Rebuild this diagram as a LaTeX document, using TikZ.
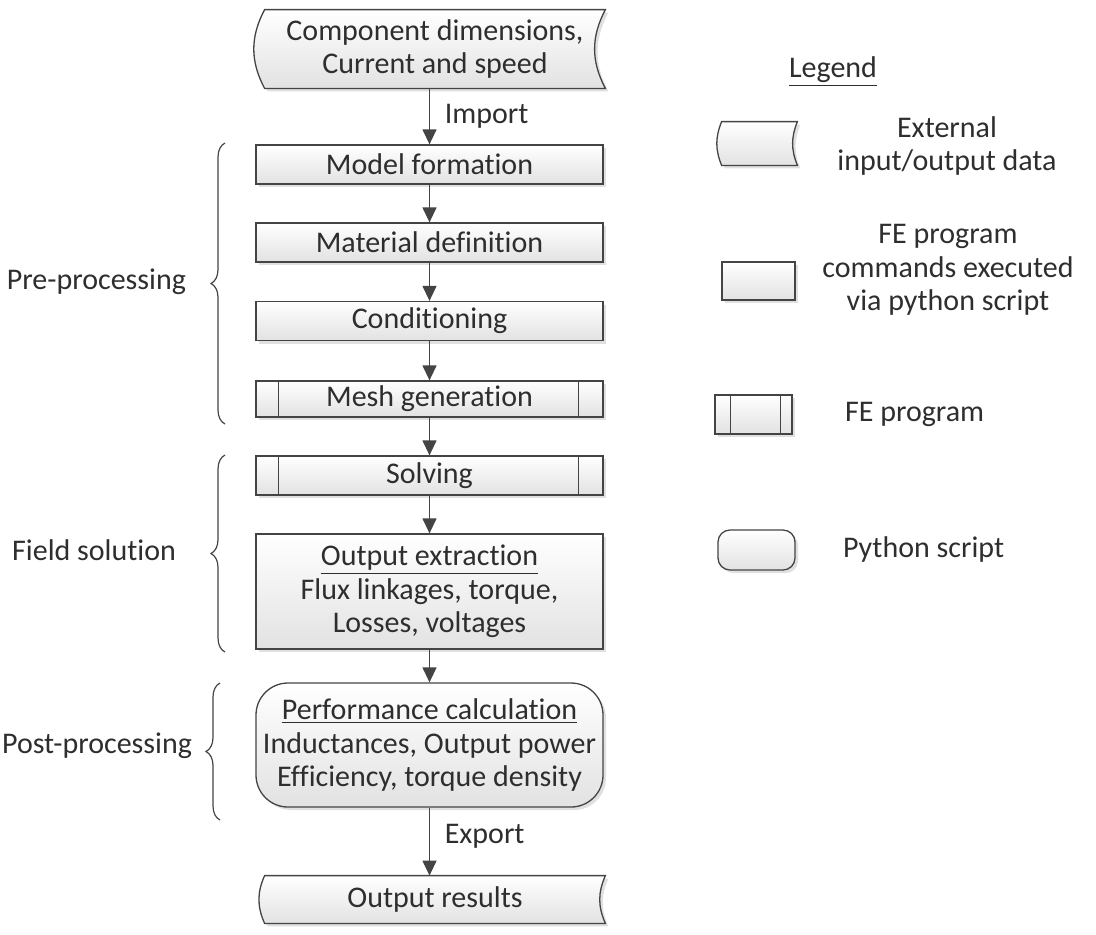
\documentclass[tikz,border=0pt]{standalone}
\usepackage{fontspec}
\setmainfont{Carlito}[Ligatures=NoCommon]
\usetikzlibrary{arrows.meta,decorations.pathreplacing,shadows,backgrounds}
\definecolor{linegray}{HTML}{444444}
\definecolor{textgray}{HTML}{2E2E2E}
\definecolor{fillgray}{HTML}{E2E2E2}

\begin{document}
\begin{tikzpicture}[
  x=0.5pt, y=-0.5pt,
  font=\fontsize{15}{16.8}\selectfont,
  shade/.style={top color=white, bottom color=fillgray,
    drop shadow={shadow xshift=1.5pt, shadow yshift=-1.5pt, fill=black, opacity=0.12}},
  box/.style={rectangle, draw=linegray, line width=0.65pt, shade, text=textgray,
    minimum width=173.5pt, minimum height=19.5pt, inner sep=0pt, align=center},
  rbox/.style={box, rounded corners=16pt},
  iotext/.style={rectangle, text=textgray, inner sep=0pt, align=center,
    minimum width=170pt},
  iobox/.style={draw=linegray, line width=0.65pt, shade},
  side/.style={draw=linegray, line width=0.65pt},
  flow/.style={draw=linegray, line width=0.65pt, -{Triangle[length=7.5pt, width=7pt]}},
  brace/.style={draw=linegray, line width=0.6pt, decorate, decoration={brace, amplitude=7pt}},
  glabel/.style={text=textgray, anchor=east},
  ltext/.style={text=textgray, align=center}
]
  \useasboundingbox (0,0) rectangle (1096,934);

  % --- FLOW ---
  \node[iotext, minimum height=39pt] (input) at (435,49) {Component dimensions,\\Current and speed};
  \node[box] (model)    at (429.5,164.5) {Model formation};
  \node[box] (material) at (429.5,242.5) {Material definition};
  \node[box] (cond)     at (429.5,321) {Conditioning};
  \node[box, minimum height=18pt] (mesh)  at (429.5,399) {Mesh generation};
  \node[box] (solve)    at (429.5,475.5) {Solving};
  \node[box, minimum height=57.5pt] (extract) at (429.5,591.5)
    {\underline{Output extraction}\\Flux linkages, torque,\\Losses, voltages};
  \node[rbox, minimum height=62pt] (perf) at (429.5,745)
    {\underline{Performance calculation}\\Inductances, Output power\\Efficiency, torque density};
  \node[iotext, minimum height=23.5pt] (output) at (435,899.5) {Output results};

  \begin{scope}[on background layer]
    \draw[iobox] (input.north west) -- (input.north east) to[bend right=28] (input.south east)
      -- (input.south west) to[bend left=28] cycle;
    \draw[iobox] (output.north west) -- (output.north east) to[bend right=24] (output.south east)
      -- (output.south west) to[bend left=24] cycle;
  \end{scope}

  \draw[side] ([xshift=11.5pt]mesh.north west) -- ([xshift=11.5pt]mesh.south west);
  \draw[side] ([xshift=-12.5pt]mesh.north east) -- ([xshift=-12.5pt]mesh.south east);
  \draw[side] ([xshift=11.5pt]solve.north west) -- ([xshift=11.5pt]solve.south west);
  \draw[side] ([xshift=-12.5pt]solve.north east) -- ([xshift=-12.5pt]solve.south east);

  \draw[flow] (input.south -| model) -- (model) node[midway, right, text=textgray, xshift=4pt] {Import};
  \draw[flow] (model) -- (material);
  \draw[flow] (material) -- (cond);
  \draw[flow] (cond) -- (mesh);
  \draw[flow] (mesh) -- (solve);
  \draw[flow] (solve) -- (extract);
  \draw[flow] (extract) -- (perf);
  \draw[flow] (perf) -- (output.north -| perf) node[pos=0.42, right, text=textgray, xshift=4pt] {Export};

  % --- GROUPS ---
  \draw[brace] (225,424) -- (225,143);
  \node[glabel] (pre) at (193,282) {Pre-processing};
  \draw[brace] (225,652) -- (225,455);
  \node[glabel] (field) at (183,550) {Field solution};
  \draw[brace] (220,820) -- (220,683);
  \node[glabel] (post) at (199,746) {Post-processing};

  % --- LEGEND ---
  \node[ltext] (legtitle) at (833,72) {\underline{Legend}};

  \node[inner sep=0pt, minimum width=37.5pt, minimum height=21.5pt] (legio) at (759.5,143.5) {};
  \begin{scope}[on background layer]
    \draw[iobox] (legio.north west) -- (legio.north east) to[bend right=22] (legio.south east)
      -- (legio.south west) to[bend left=22] cycle;
  \end{scope}
  \node[ltext] (legiotxt) at (947,146) {External\\input/output data};

  \node[box, minimum width=36.5pt, minimum height=19pt] (legcmd) at (758.5,281) {};
  \node[ltext] (legcmdtxt) at (948,270) {FE program\\commands executed\\via python script};

  \node[box, minimum width=38.5pt, minimum height=19.5pt] (legfe) at (753.5,414.5) {};
  \draw[side] ([xshift=8pt]legfe.north west) -- ([xshift=8pt]legfe.south west);
  \draw[side] ([xshift=-6pt]legfe.north east) -- ([xshift=-6pt]legfe.south east);
  \node[ltext, anchor=west] (legfetxt) at (838,414) {FE program};

  \node[rbox, minimum width=38.5pt, minimum height=20pt, rounded corners=6pt] (legpy) at (756.5,550) {};
  \node[ltext, anchor=west] (legpytxt) at (836,549) {Python script};
\end{tikzpicture}
\end{document}
